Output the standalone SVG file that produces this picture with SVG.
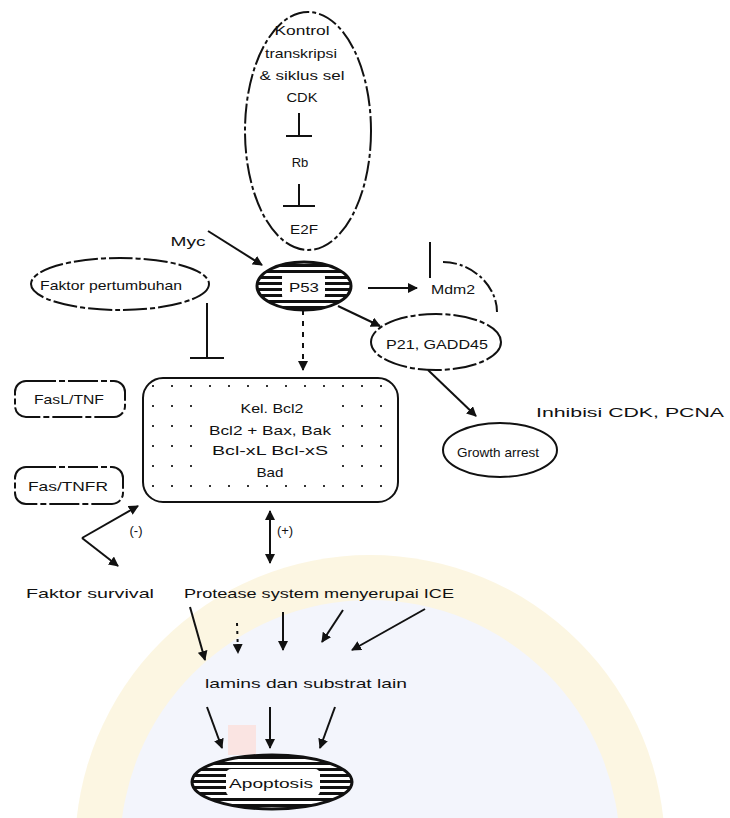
<svg xmlns="http://www.w3.org/2000/svg" width="730" height="818" viewBox="0 0 730 818">
<defs>
<style>
text{font-family:"Liberation Sans",Arial,sans-serif;font-size:13px;fill:#111;text-anchor:middle;dominant-baseline:central}
.n{fill:#fff;stroke:#111;stroke-width:2}
.ln{stroke:#111;stroke-width:2;fill:none}
.ar{stroke:#111;stroke-width:2;fill:none;marker-end:url(#ah)}
.hat{fill:url(#stripes);stroke:#111;stroke-width:3}
</style>
<marker id="ah" viewBox="0 0 10 10" refX="9" refY="5" markerWidth="5" markerHeight="5" orient="auto-start-reverse" markerUnits="strokeWidth">
<path d="M0,0 L10,5 L0,10 z" fill="#111"/>
</marker>
<pattern id="stripes" width="6" height="6" patternUnits="userSpaceOnUse">
<rect width="6" height="6" fill="#fff"/>
<rect width="6" height="3" fill="#111"/>
</pattern>
<pattern id="dots" x="143" y="378" width="19" height="20" patternUnits="userSpaceOnUse">
<rect width="19" height="20" fill="#fff"/>
<rect x="9" y="7" width="2" height="2" fill="#333"/>
</pattern>
</defs>
<rect width="730" height="818" fill="#fff"/>
<g id="watermark" opacity="0.6">
<circle cx="370" cy="850" r="295" fill="#fbf1cf"/>
<circle cx="370" cy="850" r="250" fill="#eceffb"/>
<rect x="228" y="725" width="28" height="30" fill="#f7d3d0"/>
</g>
<g id="connectors">
<path class="ar" d="M208,231 L262,265"/>
<path class="ar" d="M368,288 L417,288"/>
<path class="ln" d="M430,242 L430,278"/>
<path class="ln" d="M443,262 C472,262 497,286 497,312" stroke-dasharray="14,3,3,3"/>
<path class="ar" d="M338,306 L380,326"/>
<path class="ar" d="M303,310 L303,370" stroke-dasharray="5,6"/>
<path class="ln" d="M207,303 L207,358 M190,358 L224,358"/>
<path class="ar" d="M428,370 L476,416"/>
<path class="ar" d="M82,538 L138,506"/>
<path class="ar" d="M82,538 L118,566"/>
<path class="ar" d="M270,511 L270,563" marker-start="url(#ah)"/>
<path class="ar" d="M190,607 L205,660"/>
<path class="ar" d="M237,623 L238,653" stroke-dasharray="3,5"/>
<path class="ar" d="M283,612 L283,650"/>
<path class="ar" d="M343,610 L322,642"/>
<path class="ar" d="M425,609 L352,650"/>
<path class="ar" d="M207,707 L222,748"/>
<path class="ar" d="M270,707 L270,748"/>
<path class="ar" d="M335,707 L320,748"/>
</g>
<g id="kontrol">
<ellipse class="n" cx="308" cy="131" rx="63" ry="119" stroke-dasharray="20,3,4,3"/>
<text x="302" y="30" font-size="12" textLength="55" lengthAdjust="spacingAndGlyphs">Kontrol</text>
<text x="301" y="53" font-size="12" textLength="72" lengthAdjust="spacingAndGlyphs">transkripsi</text>
<text x="302" y="75" font-size="12" textLength="85" lengthAdjust="spacingAndGlyphs">&amp; siklus sel</text>
<text x="302" y="97" font-size="12" textLength="31" lengthAdjust="spacingAndGlyphs">CDK</text>
<path class="ln" d="M299,113 L299,136 M286,136 L312,136"/>
<text x="300" y="162" font-size="12">Rb</text>
<path class="ln" d="M299,184 L299,206 M283,206 L315,206"/>
<text x="304" y="229" font-size="12" textLength="28" lengthAdjust="spacingAndGlyphs">E2F</text>
</g>
<g id="myc"><text x="188" y="241" font-size="14" textLength="35" lengthAdjust="spacingAndGlyphs">Myc</text></g>
<g id="p53">
<ellipse class="hat" cx="304" cy="286" rx="47" ry="24"/>
<rect x="282" y="273" width="43" height="26" rx="4" fill="#fff"/>
<text x="304" y="287" textLength="30" lengthAdjust="spacingAndGlyphs">P53</text>
</g>
<g id="mdm2"><text x="453" y="289" font-size="15" textLength="44" lengthAdjust="spacingAndGlyphs">Mdm2</text></g>
<g id="p21">
<ellipse class="n" cx="436" cy="342" rx="65" ry="28" stroke-dasharray="24,3,5,3"/>
<text x="437" y="344" font-size="12" textLength="102" lengthAdjust="spacingAndGlyphs">P21, GADD45</text>
</g>
<g id="inhibisi"><text x="630" y="412" font-size="14" textLength="188" lengthAdjust="spacingAndGlyphs">Inhibisi CDK, PCNA</text></g>
<g id="growth">
<ellipse class="n" cx="500" cy="450" rx="57" ry="27"/>
<text x="498" y="452" font-size="12" textLength="82" lengthAdjust="spacingAndGlyphs">Growth arrest</text>
</g>
<g id="faktor-pertumbuhan">
<ellipse class="n" cx="120" cy="284" rx="89" ry="26" stroke-dasharray="24,3,5,3"/>
<text x="111" y="285" font-size="12" textLength="142" lengthAdjust="spacingAndGlyphs">Faktor pertumbuhan</text>
</g>
<g id="fasl">
<rect class="n" x="15" y="381" width="110" height="36" rx="11" stroke-dasharray="30,3,6,3"/>
<text x="69" y="399" font-size="12" textLength="70" lengthAdjust="spacingAndGlyphs">FasL/TNF</text>
</g>
<g id="fas">
<rect class="n" x="15" y="467" width="108" height="37" rx="11" stroke-dasharray="30,3,6,3"/>
<text x="68" y="486" font-size="12" textLength="80" lengthAdjust="spacingAndGlyphs">Fas/TNFR</text>
</g>
<g id="bcl2">
<rect x="143" y="378" width="255" height="124" rx="20" fill="url(#dots)" stroke="#111" stroke-width="2"/>
<rect x="200" y="396" width="140" height="86" fill="#fff"/>
<text x="272" y="408" font-size="13" textLength="63" lengthAdjust="spacingAndGlyphs">Kel. Bcl2</text>
<text x="270" y="430" font-size="13" textLength="122" lengthAdjust="spacingAndGlyphs">Bcl2 +  Bax, Bak</text>
<text x="270" y="450" font-size="13" textLength="116" lengthAdjust="spacingAndGlyphs">Bcl-xL     Bcl-xS</text>
<text x="270" y="472" font-size="13" textLength="27" lengthAdjust="spacingAndGlyphs">Bad</text>
</g>
<g id="labels">
<text x="136" y="530" font-size="10">(-)</text>
<text x="285" y="530" font-size="10">(+)</text>
</g>
<g id="survival"><text x="90" y="593" font-size="14" textLength="128" lengthAdjust="spacingAndGlyphs">Faktor survival</text></g>
<g id="protease"><text x="319" y="593" font-size="14" textLength="270" lengthAdjust="spacingAndGlyphs">Protease system menyerupai ICE</text></g>
<g id="lamins"><text x="306" y="683" font-size="14" textLength="202" lengthAdjust="spacingAndGlyphs">lamins dan substrat lain</text></g>
<g id="apoptosis">
<ellipse class="hat" cx="272" cy="782" rx="80" ry="27"/>
<rect x="226" y="769" width="94" height="27" rx="5" fill="#fff"/>
<text x="271" y="783" font-size="14" textLength="84" lengthAdjust="spacingAndGlyphs">Apoptosis</text>
</g>
</svg>
